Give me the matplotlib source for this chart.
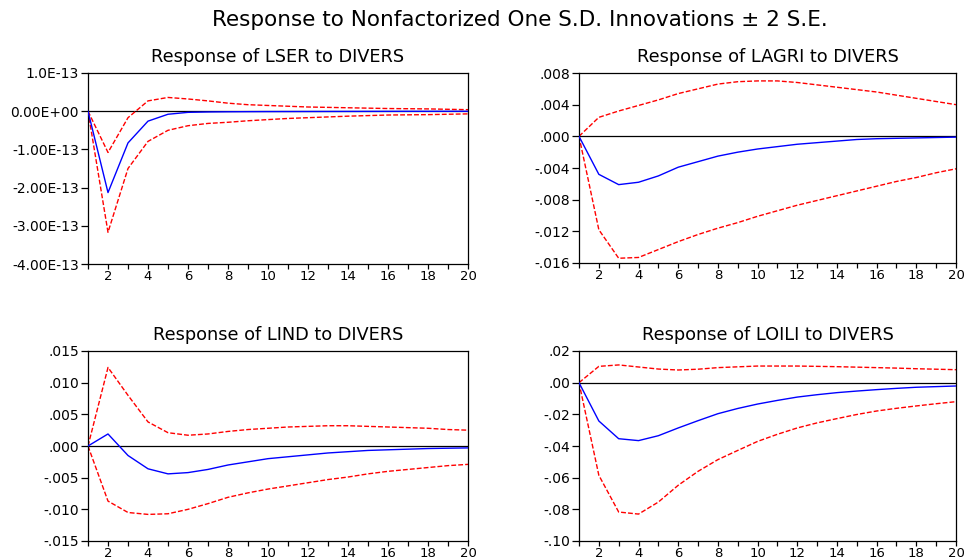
import matplotlib
matplotlib.use("Agg")
import matplotlib.pyplot as plt
import numpy as np

plt.rcParams['font.family'] = ['DejaVu Sans']

periods = list(range(1, 21))

# LSER (values in units of 1e-13)
lser_resp = [0, -2.13, -0.83, -0.26, -0.08, -0.03, -0.02, -0.015, -0.012, -0.01,
             -0.009, -0.008, -0.007, -0.006, -0.005, -0.004, -0.003, -0.003, -0.002, -0.002]
lser_up = [0, -1.08, -0.17, 0.27, 0.36, 0.32, 0.27, 0.21, 0.17, 0.15,
           0.13, 0.11, 0.10, 0.09, 0.08, 0.07, 0.065, 0.06, 0.05, 0.04]
lser_lo = [0, -3.17, -1.50, -0.79, -0.50, -0.38, -0.32, -0.29, -0.25, -0.22,
           -0.19, -0.17, -0.15, -0.13, -0.115, -0.10, -0.095, -0.09, -0.08, -0.07]

# LAGRI
lagri_resp = [0, -0.0048, -0.0061, -0.0058, -0.0050, -0.0039, -0.0032, -0.0025, -0.0020, -0.0016,
              -0.0013, -0.0010, -0.0008, -0.0006, -0.0004, -0.0003, -0.00025, -0.0002, -0.00015, -0.0001]
lagri_up = [0, 0.0024, 0.0032, 0.0039, 0.0046, 0.0054, 0.0060, 0.0066, 0.0069, 0.0070,
            0.0070, 0.0068, 0.0065, 0.0062, 0.0059, 0.0056, 0.0052, 0.0048, 0.0044, 0.0040]
lagri_lo = [0, -0.0118, -0.0154, -0.0153, -0.0143, -0.0133, -0.0124, -0.0116, -0.0109, -0.0101,
            -0.0094, -0.0087, -0.0081, -0.0075, -0.0069, -0.0063, -0.0057, -0.0052, -0.0046, -0.0041]

# LIND
lind_resp = [0, 0.0019, -0.0015, -0.0036, -0.0044, -0.0042, -0.0037, -0.0030, -0.0025, -0.0020,
             -0.0017, -0.0014, -0.0011, -0.0009, -0.0007, -0.0006, -0.0005, -0.0004, -0.00035, -0.0003]
lind_up = [0, 0.0124, 0.0080, 0.0038, 0.0021, 0.0017, 0.0019, 0.0023, 0.0026, 0.0028,
           0.0030, 0.0031, 0.0032, 0.0032, 0.0031, 0.0030, 0.0029, 0.0028, 0.0026, 0.0025]
lind_lo = [0, -0.0087, -0.0105, -0.0108, -0.0107, -0.0100, -0.0091, -0.0081, -0.0074, -0.0068,
           -0.0063, -0.0058, -0.0053, -0.0049, -0.0044, -0.0040, -0.0037, -0.0034, -0.0031, -0.0029]

# LOILI
loili_resp = [0, -0.0242, -0.0354, -0.0366, -0.0335, -0.0286, -0.0240, -0.0196, -0.0163, -0.0135,
              -0.0112, -0.0091, -0.0076, -0.0063, -0.0053, -0.0044, -0.0036, -0.0029, -0.0025, -0.0021]
loili_up = [0, 0.0103, 0.0112, 0.0099, 0.0086, 0.0080, 0.0085, 0.0095, 0.0100, 0.0105,
            0.0105, 0.0105, 0.0103, 0.0101, 0.0098, 0.0095, 0.0092, 0.0088, 0.0085, 0.0082]
loili_lo = [0, -0.0585, -0.0817, -0.0830, -0.0754, -0.0648, -0.0560, -0.0486, -0.0428, -0.0371,
            -0.0326, -0.0286, -0.0254, -0.0227, -0.0201, -0.0179, -0.0162, -0.0147, -0.0133, -0.0120]

titles = ["Response of LSER to DIVERS", "Response of LAGRI to DIVERS",
          "Response of LIND to DIVERS", "Response of LOILI to DIVERS"]

ytick_vals = [
    [1.0, 0.0, -1.0, -2.0, -3.0, -4.0],
    [0.008, 0.004, 0.0, -0.004, -0.008, -0.012, -0.016],
    [0.015, 0.010, 0.005, 0.0, -0.005, -0.010, -0.015],
    [0.02, 0.0, -0.02, -0.04, -0.06, -0.08, -0.10],
]
ytick_labels = [
    ["1.0E-13", "0.00E+00", "-1.00E-13", "-2.00E-13", "-3.00E-13", "-4.00E-13"],
    [".008", ".004", ".000", "-.004", "-.008", "-.012", "-.016"],
    [".015", ".010", ".005", ".000", "-.005", "-.010", "-.015"],
    [".02", ".00", "-.02", "-.04", "-.06", "-.08", "-.10"],
]
xtick_labels = [str(p) if p % 2 == 0 else "" for p in periods]

series = [
    (lser_resp, lser_up, lser_lo),
    (lagri_resp, lagri_up, lagri_lo),
    (lind_resp, lind_up, lind_lo),
    (loili_resp, loili_up, loili_lo),
]

W, H = 965, 560
fig = plt.figure(figsize=(W / 100, H / 100), dpi=100)

boxes = [(88, 73, 468, 264), (579, 73, 956, 263),
         (88, 351, 468, 541), (579, 351, 956, 541)]

for i, (l, t, r, b) in enumerate(boxes):
    ax = fig.add_axes([l / W, 1 - b / H, (r - l) / W, (b - t) / H])
    resp, up, lo = series[i]
    ax.axhline(0, color='black', lw=0.9, zorder=1)
    ax.plot(periods, resp, color='#0000ff', lw=1.0, zorder=3)
    ax.plot(periods, up, color='#ff0000', lw=1.0, ls=(0, (3.5, 1.5)), zorder=2)
    ax.plot(periods, lo, color='#ff0000', lw=1.0, ls=(0, (3.5, 1.5)), zorder=2)
    yv = ytick_vals[i]
    ax.set_ylim(min(yv), max(yv))
    ax.set_yticks(yv)
    ax.set_yticklabels(ytick_labels[i])
    ax.set_xlim(1, 20)
    ax.set_xticks(periods)
    ax.set_xticklabels(xtick_labels)
    ax.tick_params(axis='y', direction='out', length=5, width=0.9, labelsize=10, pad=1.5, colors='black')
    ax.tick_params(axis='x', direction='out', length=3.5, width=0.9, labelsize=9.5, pad=0.5, colors='black')
    for s in ax.spines.values():
        s.set_linewidth(0.9)
    ax.set_title(titles[i], fontsize=12.8, pad=8)

fig.text(520 / W, 1 - 20 / H, "Response to Nonfactorized One S.D. Innovations \u00b1 2 S.E.",
         ha='center', va='center', fontsize=15.5)

fig.savefig("out.png", dpi=100)
